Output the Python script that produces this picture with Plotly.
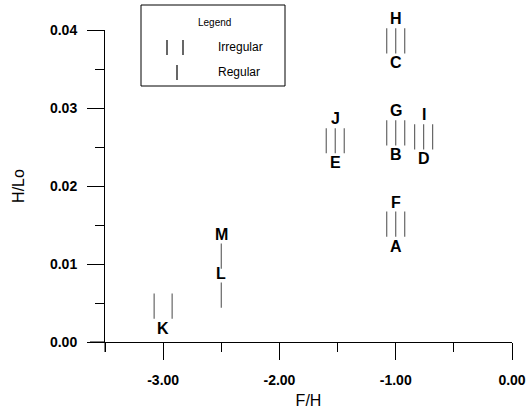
import plotly.graph_objects as go

# ---- data ----
letters = ["H", "C", "G", "B", "I", "D", "J", "E", "F", "A", "M", "L", "K"]
fh = [-1.0, -1.0, -1.0, -1.0, -0.76, -0.76, -1.52, -1.52, -1.0, -1.0, -2.5, -2.5, -3.0]
hlo = [0.0386, 0.0386, 0.0268, 0.0268, 0.0263, 0.0263, 0.0258, 0.0258,
       0.0151, 0.0151, 0.0110, 0.0060, 0.0046]
wave = ["Irregular", "Regular", "Irregular", "Regular", "Irregular", "Regular",
        "Irregular", "Regular", "Irregular", "Regular", "Regular", "Regular", "Irregular"]
label_side = ["above", "below", "above", "below", "above", "below",
              "above", "below", "above", "below", "above", "above", "below"]

x_ticks = [-3.0, -2.0, -1.0, 0.0]
x_ticktext = ["-3.00", "-2.00", "-1.00", "0.00"]
y_ticks = [0.0, 0.01, 0.02, 0.03, 0.04]
y_ticktext = ["0.00", "0.01", "0.02", "0.03", "0.04"]

# ---- layout constants ----
W, H = 529, 411
ML, MR, MT, MB = 105, 17, 30, 69
PW, PH = W - ML - MR, H - MT - MB
XR = [-3.5, 0.0]
PAIR = 9 * (XR[1] - XR[0]) / PW  # half-gap of irregular pair in data units

mark_col = "#666666"
FONT = "Liberation Sans, Arial, sans-serif"

fig = go.Figure()

# Irregular: pair of vertical lines
ix, iy = [], []
for x, y, w in zip(fh, hlo, wave):
    if w == "Irregular":
        ix += [x - PAIR, x + PAIR]
        iy += [y, y]
fig.add_trace(go.Scatter(
    x=ix, y=iy, mode="markers", name="Irregular", showlegend=False,
    marker=dict(symbol="line-ns", size=18, line=dict(width=1.2, color=mark_col)),
    cliponaxis=False))

# Regular: single vertical line
rx = [x for x, w in zip(fh, wave) if w == "Regular"]
ry = [y for y, w in zip(hlo, wave) if w == "Regular"]
fig.add_trace(go.Scatter(
    x=rx, y=ry, mode="markers", name="Regular", showlegend=False,
    marker=dict(symbol="line-ns", size=18, line=dict(width=1.2, color=mark_col)),
    cliponaxis=False))

# letter labels
for t, x, y, s in zip(letters, fh, hlo, label_side):
    fig.add_annotation(x=x, y=y, text=f"<b>{t}</b>", showarrow=False,
                       yshift=22 if s == "above" else -22,
                       xanchor="center", yanchor="middle",
                       font=dict(family=FONT, size=16, color="black"))

# ---- manual legend ----
def px_x(p):
    return (p - ML) / PW

def px_y(p):
    return (H - MB - p) / PH

fig.add_shape(type="rect", xref="paper", yref="paper",
              x0=px_x(141), x1=px_x(285), y0=px_y(86), y1=px_y(5),
              line=dict(color="black", width=1), fillcolor="white", layer="above")
fig.add_annotation(xref="paper", yref="paper", x=px_x(214), y=px_y(22),
                   xanchor="center", yanchor="middle",
                   text="Legend", showarrow=False,
                   font=dict(family=FONT, size=10, color="black"))
for xp in (167, 183):
    fig.add_shape(type="line", xref="paper", yref="paper",
                  x0=px_x(xp), x1=px_x(xp), y0=px_y(40), y1=px_y(55),
                  line=dict(color="black", width=1.2))
fig.add_shape(type="line", xref="paper", yref="paper",
              x0=px_x(177), x1=px_x(177), y0=px_y(65), y1=px_y(80),
              line=dict(color="black", width=1.2))
fig.add_annotation(xref="paper", yref="paper", x=px_x(216), y=px_y(47),
                   xanchor="left", yanchor="middle", text="Irregular", showarrow=False,
                   font=dict(family=FONT, size=12, color="black"))
fig.add_annotation(xref="paper", yref="paper", x=px_x(216), y=px_y(72),
                   xanchor="left", yanchor="middle", text="Regular", showarrow=False,
                   font=dict(family=FONT, size=12, color="black"))

# axis-line extensions past the origin
fig.add_shape(type="line", xref="paper", yref="paper",
              x0=px_x(90), x1=0, y0=0, y1=0, line=dict(color="black", width=1))
fig.add_shape(type="line", xref="paper", yref="paper",
              x0=0, x1=0, y0=px_y(352), y1=0, line=dict(color="black", width=1))

tickfont = dict(family=FONT, size=14, color="black")
fig.update_layout(
    width=W, height=H,
    margin=dict(l=ML, r=MR, t=MT, b=MB, autoexpand=False),
    paper_bgcolor="white", plot_bgcolor="white",
    showlegend=False,
    xaxis=dict(range=XR, tickvals=x_ticks, ticktext=[f"<b>{t}</b>" for t in x_ticktext],
               automargin=False,
               ticks="outside", ticklen=17, tickwidth=1, tickcolor="black",
               ticklabelstandoff=8,
               minor=dict(dtick=0.5, ticks="outside", ticklen=9, tickcolor="black"),
               showgrid=False, zeroline=False, showline=True, linecolor="black",
               linewidth=1, tickfont=tickfont,
               title=dict(text="F/H", font=dict(family=FONT, size=16, color="black"),
                          standoff=8)),
    yaxis=dict(range=[0, 0.04], tickvals=y_ticks, ticktext=[f"<b>{t}</b>" for t in y_ticktext],
               automargin=False,
               ticks="outside", ticklen=17, tickwidth=1, tickcolor="black",
               ticklabelstandoff=7,
               minor=dict(dtick=0.005, ticks="outside", ticklen=9, tickcolor="black"),
               showgrid=False, zeroline=False, showline=True, linecolor="black",
               linewidth=1, tickfont=tickfont,
               title=dict(text="H/Lo", font=dict(family=FONT, size=16, color="black"),
                          standoff=21)),
)

fig.write_html("out.html")
